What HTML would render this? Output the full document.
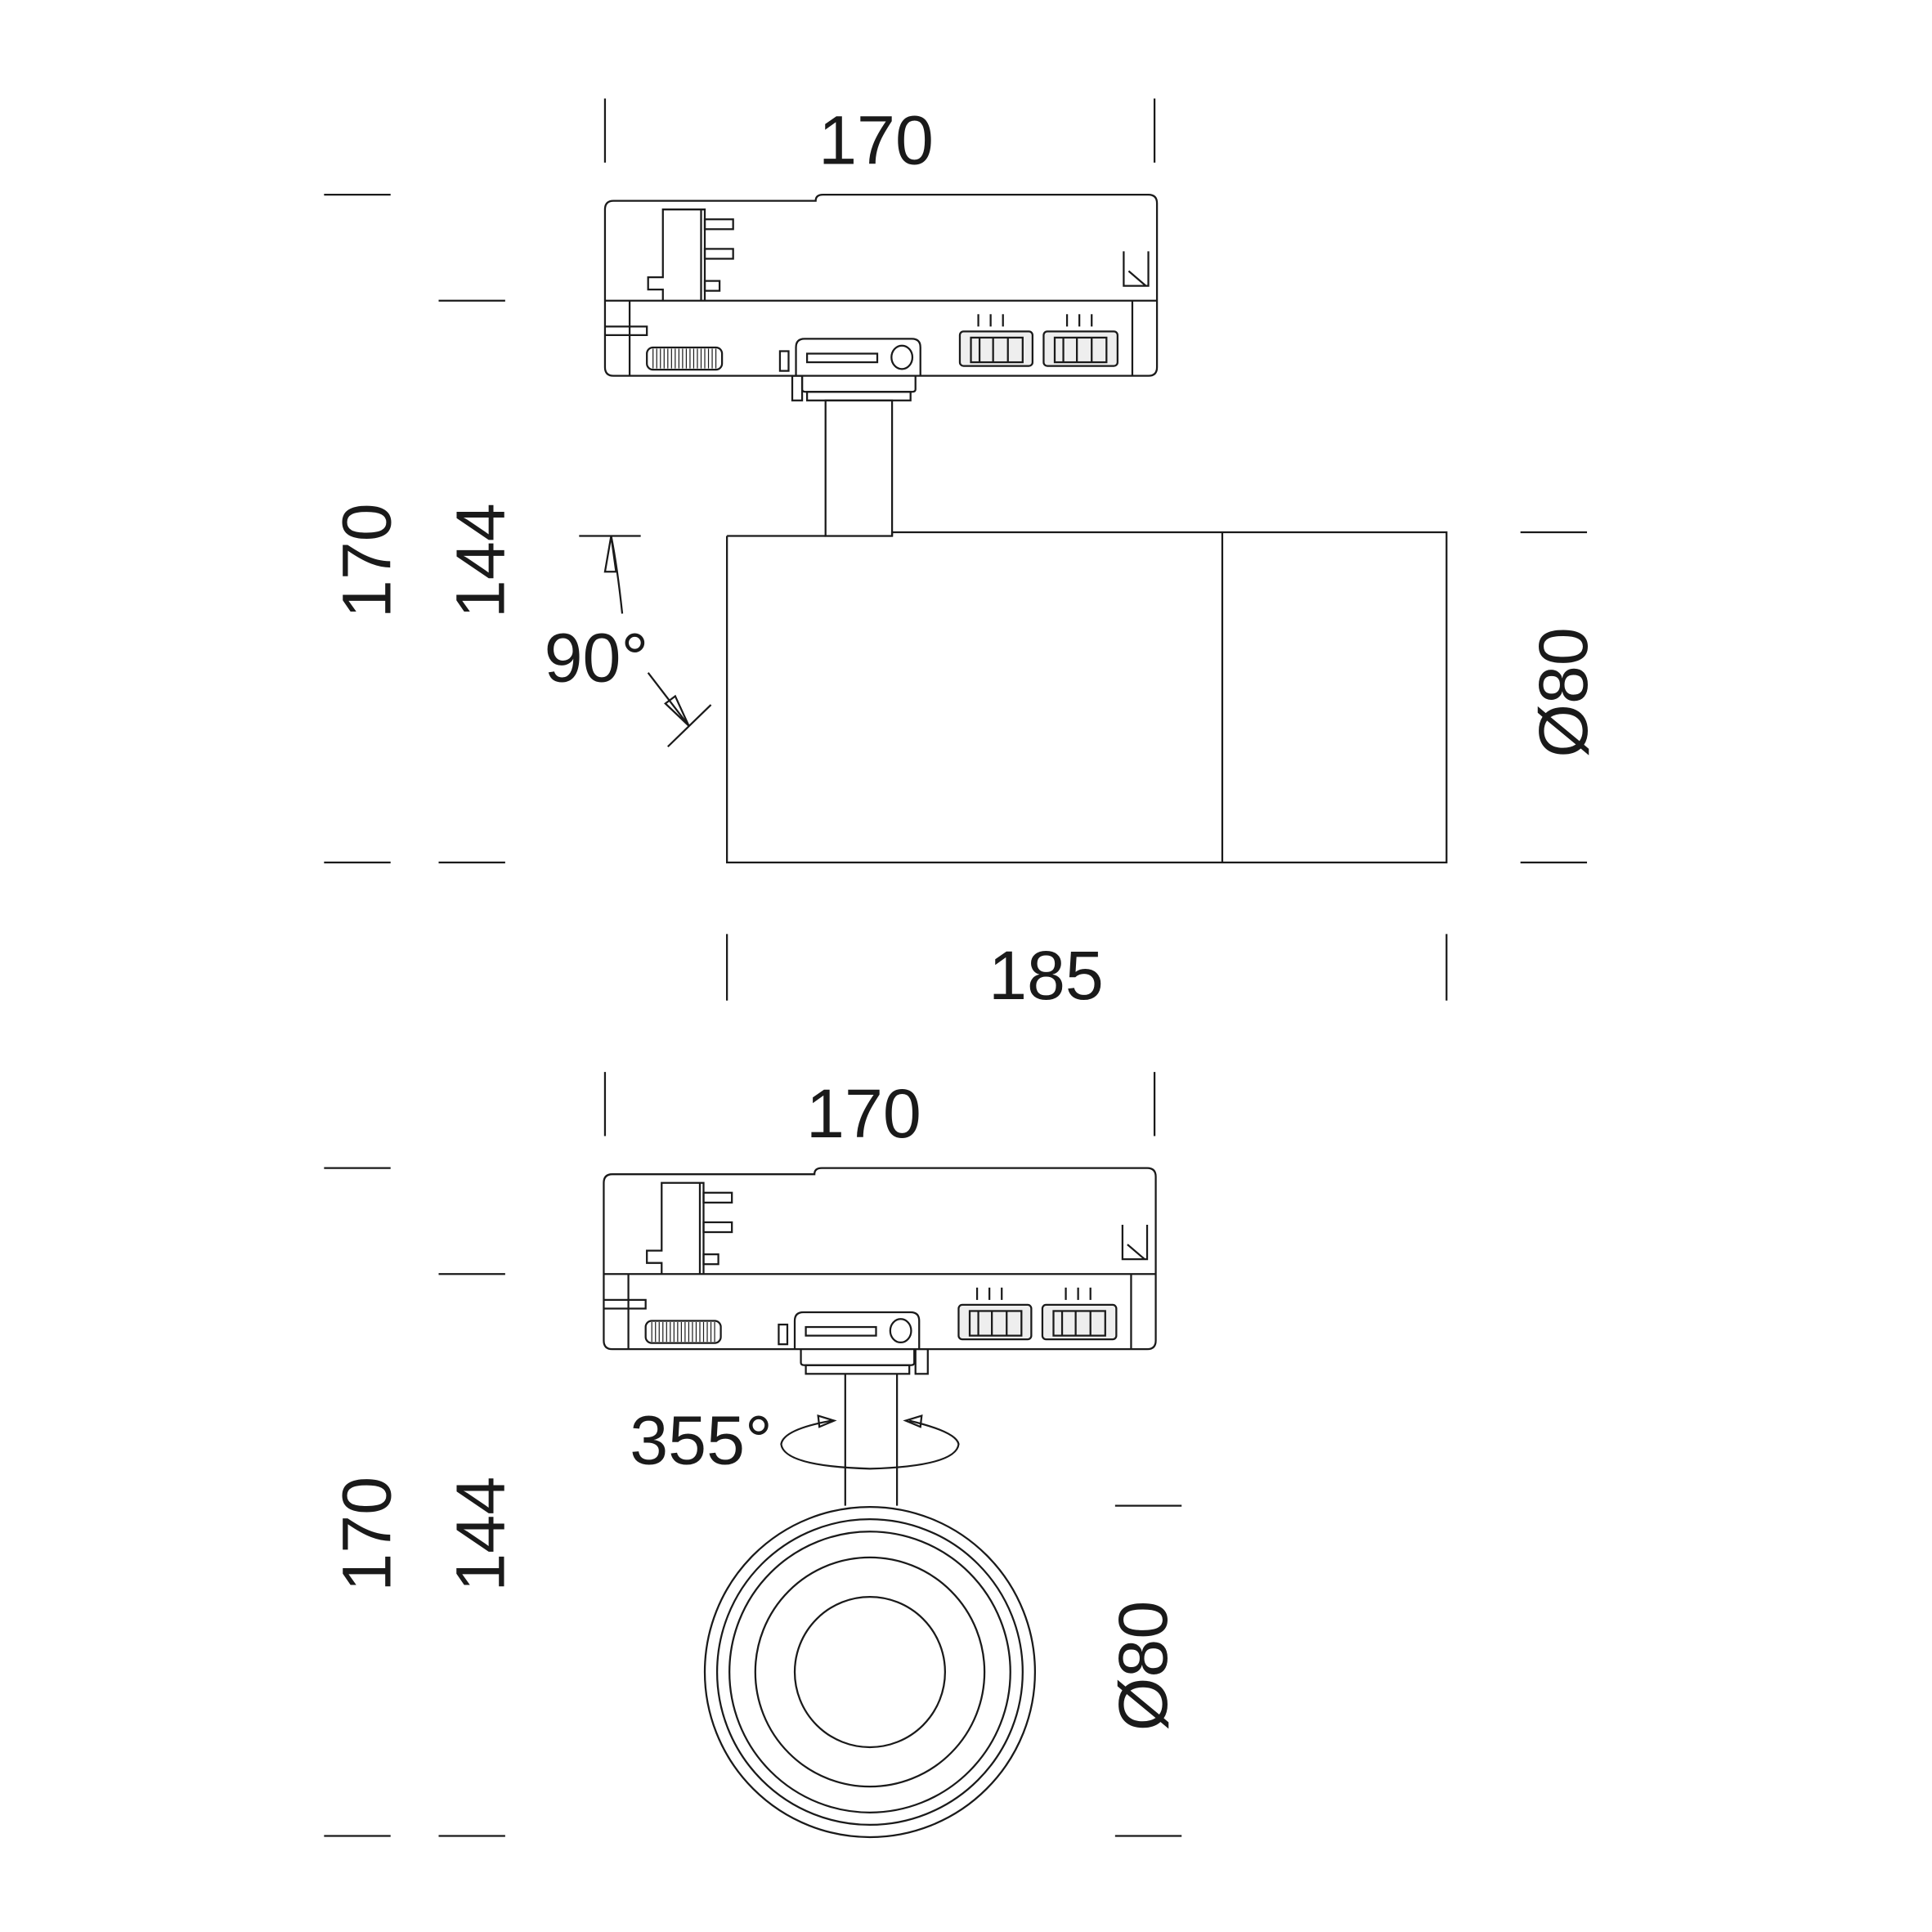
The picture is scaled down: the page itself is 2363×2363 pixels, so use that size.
<!DOCTYPE html>
<html><head><meta charset="utf-8"><style>
html,body{margin:0;padding:0;background:#fff;}
svg{display:block;}
text{font-family:"Liberation Sans",sans-serif;fill:#1a1a1a;}
</style></head><body>
<svg width="2363" height="2363" viewBox="0 0 1568 1568" xmlns="http://www.w3.org/2000/svg">
<defs>
<g id="adapter" fill="none" stroke="#1a1a1a" stroke-width="1.5">
  <path d="M491,170 Q491,163 498,163 L662,163 Q662,158 668,158 L932,158 Q939,158 939,165 L939,298 Q939,305 932,305 L498,305 Q491,305 491,298 Z"/>
  <line x1="491" y1="244" x2="939" y2="244"/>
  <line x1="511" y1="244" x2="511" y2="305"/>
  <line x1="919" y1="244" x2="919" y2="305"/>
  <path d="M491,265 L525,265 L525,272 L491,272"/>
  <path d="M538,244 L538,235 L526,235 L526,225 L538,225 L538,170 L572,170 L572,244"/>
  <line x1="569" y1="170" x2="569" y2="244"/>
  <rect x="572" y="178" width="23" height="8"/>
  <rect x="572" y="202" width="23" height="8"/>
  <rect x="572" y="228" width="12" height="8"/>
  <path d="M912,204 L912,232 L932,232 L932,204"/>
  <line x1="916" y1="220" x2="930" y2="232"/>
  <rect x="525" y="282" width="61" height="18" rx="5"/>
  <g stroke-width="0.8">
    <line x1="530" y1="283" x2="530" y2="299"/><line x1="533" y1="283" x2="533" y2="299"/><line x1="536" y1="283" x2="536" y2="299"/><line x1="539" y1="283" x2="539" y2="299"/><line x1="542" y1="283" x2="542" y2="299"/><line x1="545" y1="283" x2="545" y2="299"/><line x1="548" y1="283" x2="548" y2="299"/><line x1="551" y1="283" x2="551" y2="299"/><line x1="554" y1="283" x2="554" y2="299"/><line x1="557" y1="283" x2="557" y2="299"/><line x1="560" y1="283" x2="560" y2="299"/><line x1="563" y1="283" x2="563" y2="299"/><line x1="566" y1="283" x2="566" y2="299"/><line x1="569" y1="283" x2="569" y2="299"/><line x1="572" y1="283" x2="572" y2="299"/><line x1="575" y1="283" x2="575" y2="299"/><line x1="578" y1="283" x2="578" y2="299"/><line x1="581" y1="283" x2="581" y2="299"/>
  </g>
  <rect x="633" y="285" width="7" height="16"/>
  <path d="M646,305 L646,282 Q646,275 653,275 L740,275 Q747,275 747,282 L747,305"/>
  <rect x="655" y="287" width="57" height="7"/>
  <ellipse cx="732" cy="290" rx="8.5" ry="9.5"/>
  <path d="M651,305 L651,316 Q651,318 654,318 L740,318 Q743,318 743,316 L743,305"/>
  <rect x="655" y="318" width="84" height="7"/>
  <rect x="779" y="269" width="59" height="28" rx="3" fill="#eeeeee"/>
  <rect x="788" y="274" width="42" height="20"/>
  <line x1="795" y1="274" x2="795" y2="294"/><line x1="806" y1="274" x2="806" y2="294"/><line x1="818" y1="274" x2="818" y2="294"/>
  <rect x="847" y="269" width="60" height="28" rx="3" fill="#eeeeee"/>
  <rect x="856" y="274" width="42" height="20"/>
  <line x1="863" y1="274" x2="863" y2="294"/><line x1="874" y1="274" x2="874" y2="294"/><line x1="886" y1="274" x2="886" y2="294"/>
  <line x1="794" y1="255" x2="794" y2="265"/><line x1="804" y1="255" x2="804" y2="265"/><line x1="814" y1="255" x2="814" y2="265"/>
  <line x1="866" y1="255" x2="866" y2="265"/><line x1="876" y1="255" x2="876" y2="265"/><line x1="886" y1="255" x2="886" y2="265"/>
</g>
</defs>
<rect width="1568" height="1568" fill="#fff"/>
<g stroke="#1a1a1a" stroke-width="1.5" fill="none">
  <!-- top view -->
  <use href="#adapter"/>
  <rect x="643" y="305" width="8" height="20"/>
  <rect x="670" y="325" width="54" height="110"/>
  <path d="M590,435 L670,435 M724,435 L724,432 L1174,432 L1174,700 L590,700 L590,435"/>
  <line x1="992" y1="432" x2="992" y2="700"/>
  <!-- dims -->
  <line x1="491" y1="80" x2="491" y2="132"/><line x1="937" y1="80" x2="937" y2="132"/>
  <line x1="263" y1="158" x2="317" y2="158"/><line x1="263" y1="700" x2="317" y2="700"/>
  <line x1="356" y1="244" x2="410" y2="244"/><line x1="356" y1="700" x2="410" y2="700"/>
  <line x1="1234" y1="432" x2="1288" y2="432"/><line x1="1234" y1="700" x2="1288" y2="700"/>
  <line x1="590" y1="758" x2="590" y2="812"/><line x1="1174" y1="758" x2="1174" y2="812"/>
  <!-- 90 deg -->
  <line x1="470" y1="435" x2="520" y2="435"/>
  <path d="M505,498 Q501,460 496,435"/>
  <path d="M496,435 L491,464 L500,464 Z"/>
  <line x1="526" y1="546" x2="559" y2="589"/>
  <line x1="542" y1="606" x2="577" y2="572"/>
  <path d="M559,589 L540,571 L548,565 Z"/>
  <!-- bottom view -->
  <g transform="translate(-1,790)"><use href="#adapter"/></g>
  <rect x="743" y="1095" width="10" height="20" fill="#fff"/>
  <line x1="686" y1="1115" x2="686" y2="1222"/><line x1="728" y1="1115" x2="728" y2="1222"/>
  <circle cx="706" cy="1357" r="134"/>
  <circle cx="706" cy="1357" r="124"/>
  <circle cx="706" cy="1357" r="114"/>
  <circle cx="706" cy="1357" r="93"/>
  <circle cx="706" cy="1357" r="61"/>
  <path d="M675,1153 Q636,1160 634,1172 Q636,1190 706,1192 Q776,1190 778,1172 Q776,1162 738,1153"/>
  <path d="M677,1153 L664,1149 L665,1158 Z"/>
  <path d="M735,1153 L748,1149 L747,1158 Z"/>
  <line x1="491" y1="870" x2="491" y2="922"/><line x1="937" y1="870" x2="937" y2="922"/>
  <line x1="263" y1="948" x2="317" y2="948"/><line x1="263" y1="1490" x2="317" y2="1490"/>
  <line x1="356" y1="1034" x2="410" y2="1034"/><line x1="356" y1="1490" x2="410" y2="1490"/>
  <line x1="905" y1="1222" x2="959" y2="1222"/><line x1="905" y1="1490" x2="959" y2="1490"/>
</g>
<g font-size="56">
  <text x="711" y="133" text-anchor="middle">170</text>
  <text x="849" y="811" text-anchor="middle">185</text>
  <text x="484" y="553" text-anchor="middle">90°</text>
  <text transform="translate(317,455) rotate(-90)" text-anchor="middle">170</text>
  <text transform="translate(409,455) rotate(-90)" text-anchor="middle">144</text>
  <text transform="translate(1288,562) rotate(-90)" text-anchor="middle">Ø80</text>
  <text x="701" y="923" text-anchor="middle">170</text>
  <text x="569" y="1188" text-anchor="middle">355°</text>
  <text transform="translate(317,1245) rotate(-90)" text-anchor="middle">170</text>
  <text transform="translate(409,1245) rotate(-90)" text-anchor="middle">144</text>
  <text transform="translate(947,1352) rotate(-90)" text-anchor="middle">Ø80</text>
</g>
</svg>
</body></html>
